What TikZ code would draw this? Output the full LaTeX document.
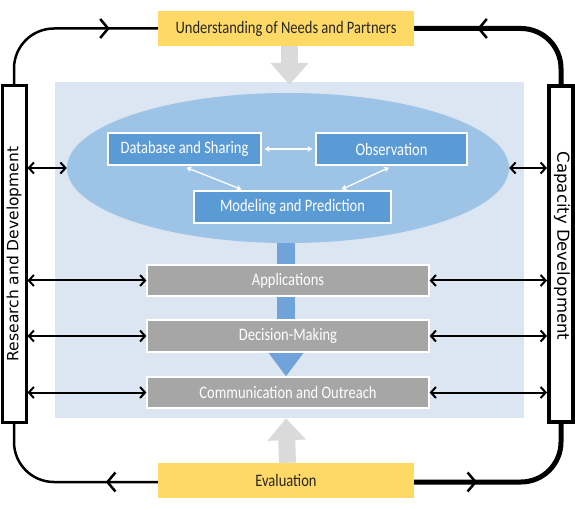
\documentclass[tikz,border=0pt]{standalone}
\usepackage{graphicx}
\usepackage{fontspec}
\setmainfont{Carlito}
\newfontfamily\barfont{DejaVu Sans}
\newcommand\condtxt[1]{\scalebox{0.83}[1]{#1}}
\usetikzlibrary{arrows.meta,decorations.markings,calc,shapes.geometric}
\pgfdeclarelayer{back}
\pgfdeclarelayer{mid}
\pgfsetlayers{back,mid,main}
\definecolor{yel}{HTML}{FFD966}
\definecolor{bgblue}{HTML}{DCE6F2}
\definecolor{ellblue}{HTML}{9DC3E6}
\definecolor{boxblue}{HTML}{5B9BD5}
\definecolor{stemblue}{HTML}{6FA3DA}
\definecolor{boxgray}{HTML}{A6A6A6}
\definecolor{arrgray}{HTML}{DADADA}
\definecolor{txtdark}{HTML}{262626}
\begin{document}
\begin{tikzpicture}[x=1pt,y=-1pt,
  txt/.style={font=\fontsize{17.5}{19}\selectfont},
  yelbox/.style={txt,fill=yel,minimum width=256pt,minimum height=35pt,inner sep=0pt,text=txtdark},
  bluebox/.style={txt,fill=boxblue,draw=white,line width=1.2pt,minimum height=32pt,inner sep=0pt,text=white},
  graybox/.style={txt,fill=boxgray,draw=white,line width=1.2pt,minimum width=282pt,inner sep=0pt,text=white},
  sidebar/.style={draw=black,fill=white,minimum width=24pt,minimum height=336pt,inner sep=0pt},
  bartext/.style={font=\barfont\fontsize{15.5}{17}\selectfont,inner sep=0pt},
  link/.style={black,line width=2pt,{Straight Barb[length=5pt 0,width=11pt 0]}-{Straight Barb[length=5pt 0,width=11pt 0]}},
  wlink/.style={white,line width=1.3pt,{Stealth[length=5pt 0,width=6pt 0]}-{Stealth[length=5pt 0,width=6pt 0]}},
  loopline/.style={black,rounded corners=40pt,postaction={decorate},
    decoration={markings,mark=at position #1 with {\arrow{Straight Barb[length=8pt 0,width=19pt 0,line width=2.5pt]}}}},
  blockarrow/.style={line width=17pt,-{Triangle[length=22pt 0,width=37pt 0]}}
]
\useasboundingbox (0,0) rectangle (575,510);
\begin{pgfonlayer}{back}
\node[fill=bgblue,minimum width=469pt,minimum height=336pt,inner sep=0pt] (bg) at (289.5,250) {};
\end{pgfonlayer}
% top and bottom yellow boxes
\node[yelbox] (top) at (286,28.5) {\condtxt{Understanding of Needs and Partners}};
\node[yelbox] (eval) at (286,480.5) {\condtxt{Evaluation}};
% grey block arrows
\draw[arrgray,blockarrow,shorten >=-3pt] ($(top.south)+(3.5,0)$) -- ($(bg.north)+(0,0)$);
\draw[arrgray,blockarrow] ($(eval.north)+(1.5,0)$) -- ($(bg.south)+(-3.5,0)$);
% ellipse
\node[ellipse,fill=ellblue,minimum width=442pt,minimum height=150pt,inner sep=0pt] (ell) at (288,168) {};
\node[bluebox,minimum width=153pt] (db) at (184.5,149) {\condtxt{Database and Sharing}};
\node[bluebox,minimum width=151pt] (obs) at (391.5,149) {\condtxt{Observation}};
\node[bluebox,minimum width=197pt] (mod) at (292.5,207) {\condtxt{Modeling and Prediction}};
\draw[wlink,shorten <=3pt,shorten >=3pt] (db) -- (obs);
\draw[wlink] ($(db.south)+(2,2)$) -- ($(mod.north west)+(48,-1)$);
\draw[wlink] ($(obs.south)+(-2.5,2)$) -- ($(mod.north east)+(-50,-1)$);
% grey boxes
\node[graybox,minimum height=31pt] (app) at (288,280.5) {\condtxt{Applications}};
\node[graybox,minimum height=32pt] (dec) at (288,336) {\condtxt{Decision-Making}};
\node[graybox,minimum height=31pt] (com) at (288,392.5) {\condtxt{Communication and Outreach}};
\begin{pgfonlayer}{mid}
\draw[stemblue,line width=18pt,-{Triangle[length=24pt 0,width=34pt 0]}] ($(ell.south)+(-2,-12)$) -- ($(com.north)+(-2,0)$);
\end{pgfonlayer}
% side bars
\node[sidebar,line width=3pt] (lb) at (14,254) {};
\node[sidebar,line width=4pt] (rb) at (561,254) {};
\node[bartext,rotate=90] (lbt) at (lb) {Research and Development};
\node[bartext,rotate=-90,font=\barfont\fontsize{16.5}{18}\selectfont] (rbt) at ($(rb)+(1,-8)$) {Capacity Development};
% side links
\draw[link] (lb.east |- ell.west) -- (ell.west);
\draw[link] (lb.east |- app.west) -- (app.west);
\draw[link] (lb.east |- dec.west) -- (dec.west);
\draw[link] (lb.east |- com.west) -- (com.west);
\draw[link] (ell.east) -- (rb.west |- ell.east);
\draw[link] (app.east) -- (rb.west |- app.east);
\draw[link] (dec.east) -- (rb.west |- dec.east);
\draw[link] (com.east) -- (rb.west |- com.east);
% feedback loops
\draw[loopline=-48pt,line width=2.5pt] (lb.north) |- (top.west);
\draw[loopline=-63pt,line width=5pt] (rb.north) |- (top.east);
\draw[loopline=52pt,line width=2.5pt] ($(eval.west)+(0,1.5)$) -| (lb.south);
\draw[loopline=63pt,line width=5pt] ($(eval.east)+(0,1.5)$) -| (rb.south);
\end{tikzpicture}
\end{document}
